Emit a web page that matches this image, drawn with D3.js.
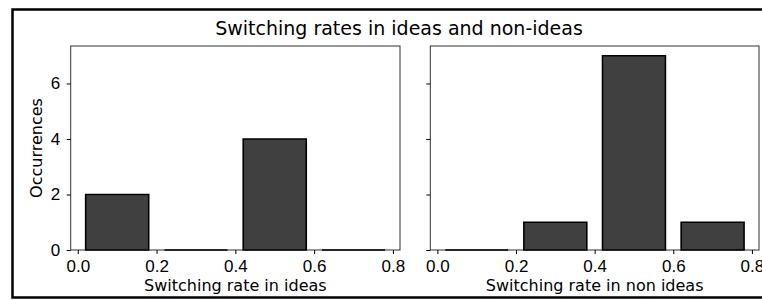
<!DOCTYPE html>
<html>
<head>
<meta charset="utf-8">
<script src="https://cdn.jsdelivr.net/npm/d3@7"></script>
<style>
  body { margin: 0; background: #fff; }
  svg { font-family: "DejaVu Sans", sans-serif; }
  .tick text { font-size: 17px; fill: #000; }
  .tick line, .domain { stroke: #000; }
</style>
</head>
<body>
<svg id="chart" width="762" height="300"></svg>
<script>
// bins (left edge, right edge) and counts
var binStart = [0.02, 0.22, 0.42, 0.62];
var binEnd = [0.18, 0.38, 0.58, 0.78];
var ideasCounts = [2, 0, 4, 0];
var nonIdeasCounts = [0, 1, 7, 1];
var xTicks = [0.0, 0.2, 0.4, 0.6, 0.8];
var yTicks = [0, 2, 4, 6];

var svg = d3.select('#chart');

//---------outer frame----------
svg.append('rect')
    .attr('x', 12.5).attr('y', 9.5)
    .attr('width', 770).attr('height', 288)
    .attr('fill', 'none')
    .attr('stroke', '#000')
    .attr('stroke-width', 2.5);

svg.append('text')
    .attr('x', 399).attr('y', 35)
    .attr('text-anchor', 'middle')
    .style('font-size', '19px')
    .text('Switching rates in ideas and non-ideas');

var plotTop = 46, plotBottom = 250;
var y = d3.scaleLinear().domain([0, 7.35]).range([plotBottom, plotTop]);

function panel(left, right, counts, xLabel, showY) {
  var x = d3.scaleLinear().domain([-0.018, 0.818]).range([left, right]);
  var g = svg.append('g');

  // frame of the axes
  g.append('rect')
      .attr('x', left).attr('y', plotTop)
      .attr('width', right - left).attr('height', plotBottom - plotTop)
      .attr('fill', 'none')
      .attr('stroke', '#333')
      .attr('stroke-width', 1);

  // bars as closed paths so empty bins still show their edge line
  g.selectAll('path.bar')
    .data(counts)
    .enter()
    .append('path')
      .classed('bar', true)
      .attr('d', (d, i) => {
        var x0 = x(binStart[i]), x1 = x(binEnd[i]);
        return 'M' + x0 + ',' + y(0) + 'V' + y(d) + 'H' + x1 + 'V' + y(0) + 'Z';
      })
      .attr('fill', '#404040')
      .attr('stroke', '#000')
      .attr('stroke-width', 1.6);

  var xAxis = d3.axisBottom(x)
      .tickValues(xTicks)
      .tickSize(4)
      .tickPadding(5.5)
      .tickSizeOuter(0)
      .tickFormat(d3.format('.1f'));
  g.append('g')
      .attr('transform', 'translate(0,' + plotBottom + ')')
      .call(xAxis)
      .call(a => a.select('.domain').remove());

  var yAxis = d3.axisLeft(y)
      .tickValues(yTicks)
      .tickSize(4)
      .tickPadding(6.5)
      .tickSizeOuter(0)
      .tickFormat(showY ? d3.format('d') : '');
  g.append('g')
      .attr('transform', 'translate(' + left + ',0)')
      .call(yAxis)
      .call(a => a.select('.domain').remove());

  g.append('text')
      .attr('x', (left + right) / 2).attr('y', 291)
      .attr('text-anchor', 'middle')
      .style('font-size', '16px')
      .text(xLabel);
}

panel(70.7, 400, ideasCounts, 'Switching rate in ideas', true);
panel(430.3, 759, nonIdeasCounts, 'Switching rate in non ideas', false);

svg.append('text')
    .attr('transform', 'rotate(-90)')
    .attr('x', -148).attr('y', 42)
    .attr('text-anchor', 'middle')
    .style('font-size', '16px')
    .text('Occurrences');
</script>
</body>
</html>
